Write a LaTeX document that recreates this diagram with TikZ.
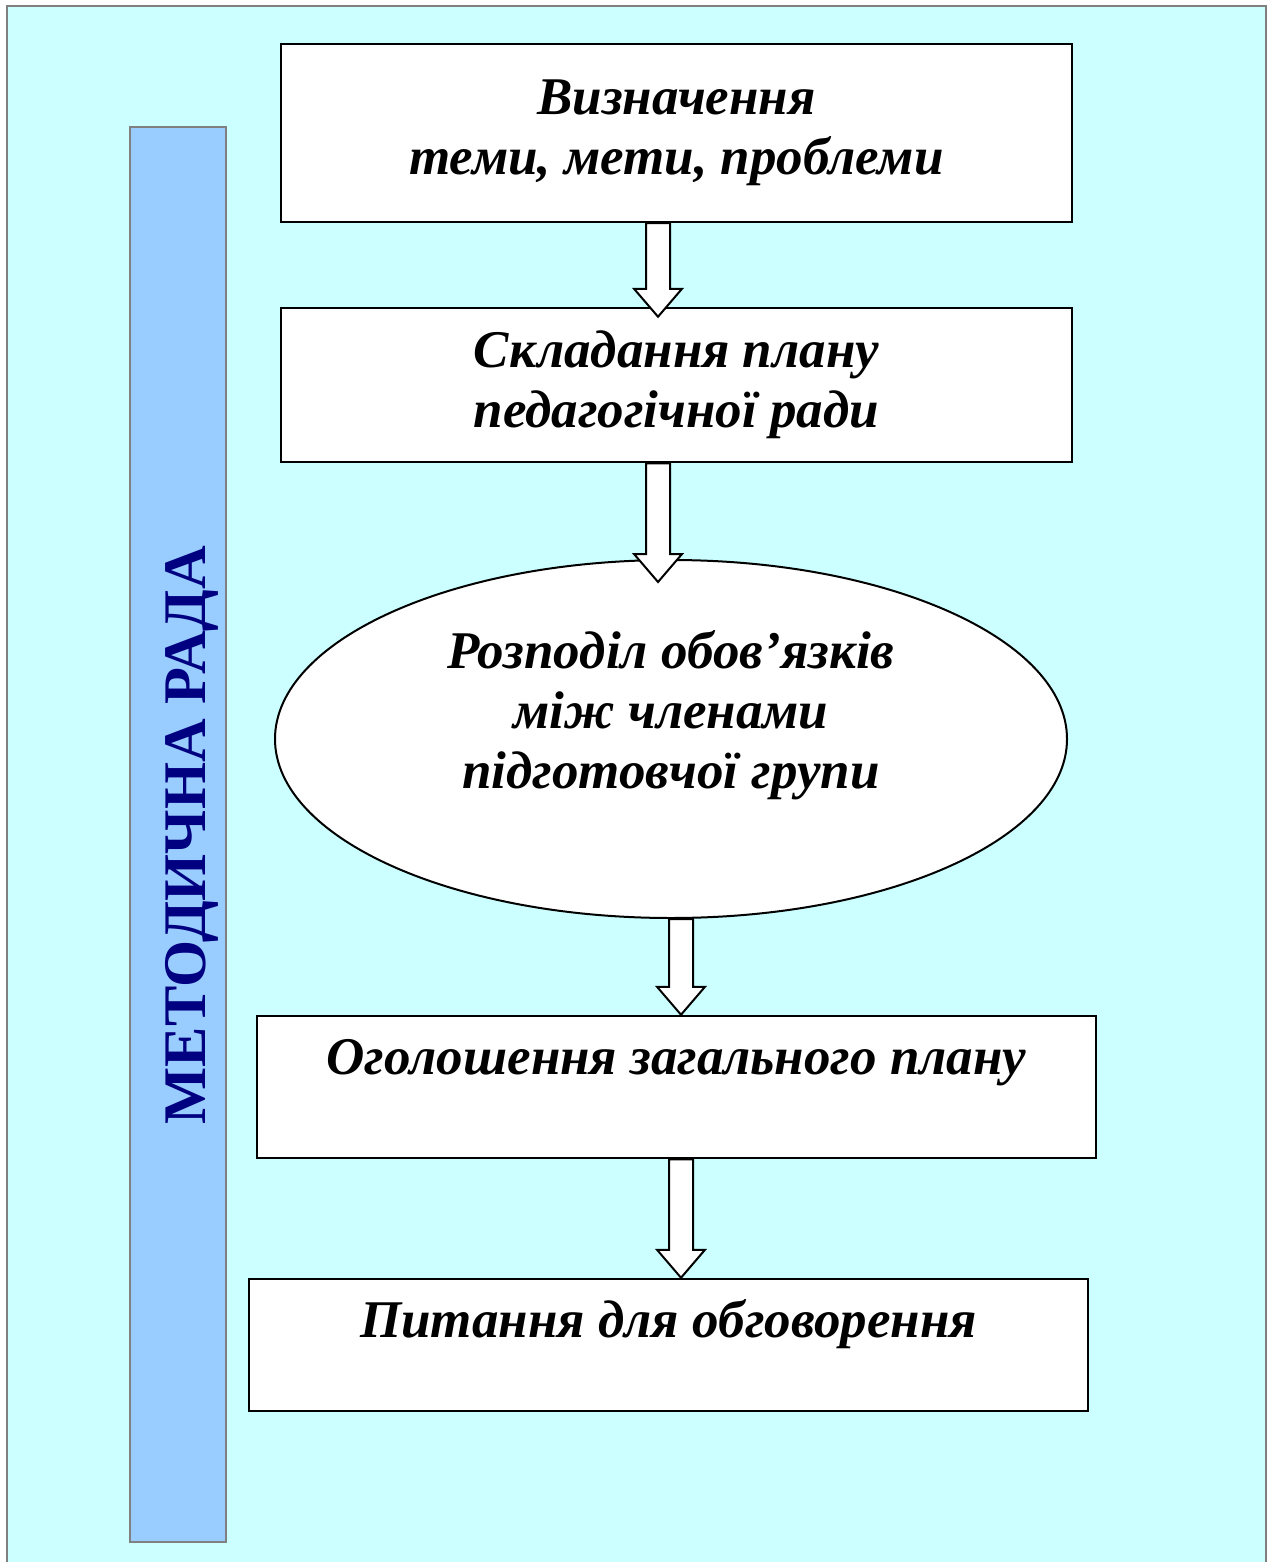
\documentclass[tikz,border=0pt]{standalone}
\usepackage{fontspec}
\setmainfont{Liberation Serif}
\usetikzlibrary{shapes.geometric,calc}

\definecolor{sheet}{HTML}{CCFFFF}
\definecolor{barblue}{HTML}{99CCFF}
\definecolor{framegray}{HTML}{808080}
\definecolor{inkblue}{HTML}{000080}

\tikzset{
  stagetext/.style={inner sep=0pt, align=center, font=\bfseries\itshape\fontsize{53}{60}\selectfont},
  stagebox/.style={stagetext, rectangle, draw=black, line width=2.5pt, fill=white},
  stageoval/.style={stagetext, ellipse, draw=black, line width=2pt, fill=white},
  blockarrow/.style={draw=black, line width=2pt, fill=white, line join=miter}
}

\begin{document}
\begin{tikzpicture}[x=1pt,y=-1pt]
  \useasboundingbox (0,0) rectangle (1267,1562);

  % sheet
  \fill [sheet] (7,6) rectangle (1266,1562);
  \draw [framegray, line width=2.5pt] (7,1562) -- (7,6) -- (1266,6) -- (1266,1562);

  % side bar
  \node [draw=framegray, line width=2pt, fill=barblue, minimum width=96pt,
         minimum height=1415pt, inner sep=0pt] (bar) at (178,834.5) {};
  \node [rotate=90, anchor=base, text=inkblue, font=\bfseries\fontsize{60.5}{70}\selectfont]
        (bartitle) at (205,835) {МЕТОДИЧНА РАДА};

  % stages
  \node [stagebox, minimum width=791pt, minimum height=178pt] (aim) at (676.5,133)
        {Визначення\\теми, мети, проблеми};
  \node [stagebox, minimum width=791pt, minimum height=154pt] (plan) at (676.5,385)
        {Складання плану\\педагогічної ради};
  \node [stageoval, minimum width=792pt, minimum height=358pt,
         label={[stagetext, yshift=24pt]center:Розподіл обов’язків\\між членами\\підготовчої групи}]
        (duty) at (671,739) {};
  \node [stagebox, minimum width=839pt, minimum height=142pt,
         label={[stagetext, anchor=base, yshift=-60pt]north:Оголошення загального плану}]
        (announce) at (676.5,1087) {};
  \node [stagebox, minimum width=839pt, minimum height=132pt,
         label={[stagetext, anchor=base, yshift=-60pt]north:Питання для обговорення}]
        (issues) at (668.5,1345) {};

  % arrows
  \foreach \src/\dst/\ax/\dip in {aim/plan/658/10, plan/duty/658/23,
                                  duty/announce/681/0, announce/issues/681/0}
    \draw [blockarrow] let \p1=(\ax,0 |- \src.south), \p2=($(\ax,0 |- \dst.north)+(0,\dip)$) in
      (\x1-12pt,\y1) -- (\x1-12pt,\y2+28pt) -- (\x1-24pt,\y2+28pt) -- (\x1,\y2)
      -- (\x1+24pt,\y2+28pt) -- (\x1+12pt,\y2+28pt) -- (\x1+12pt,\y1) -- cycle;
\end{tikzpicture}
\end{document}
